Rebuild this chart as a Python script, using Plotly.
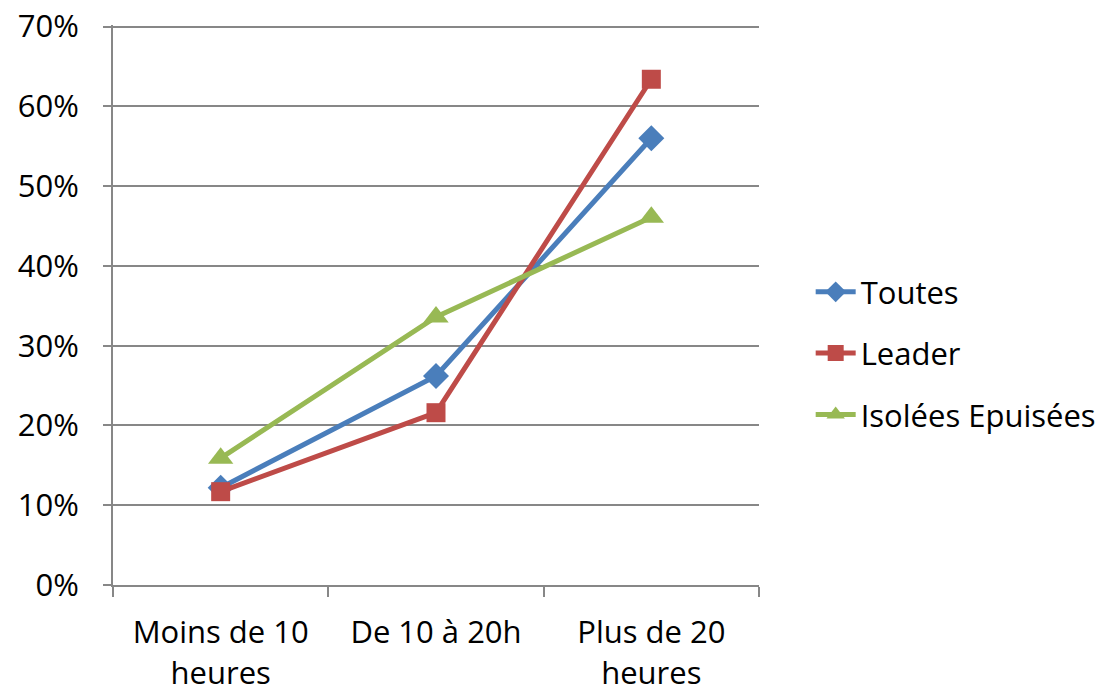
import plotly.graph_objects as go

categories = ["Moins de 10<br>heures", "De 10 à 20h", "Plus de 20<br>heures"]
toutes = [0.122, 0.262, 0.560]
leader = [0.117, 0.216, 0.634]
isolees = [0.159, 0.336, 0.461]

series = [
    ("Toutes", toutes, "#4A7EBB", "diamond", 20),
    ("Leader", leader, "#BE4B48", "square", 19),
    ("Isolées Epuisées", isolees, "#98B954", "triangle-up", 22),
]

fig = go.Figure()
for i, (name, vals, color, sym, size) in enumerate(series):
    fig.add_trace(go.Scatter(
        x=categories, y=vals, name=name, mode="lines+markers",
        line=dict(color=color, width=5),
        marker=dict(symbol=sym, size=size, color=color),
        legendgroup=f"g{i}",
    ))

font = "Open Sans, Liberation Sans, sans-serif"
fig.update_layout(
    width=1105, height=684,
    margin=dict(l=105, r=348, t=17, b=107),
    paper_bgcolor="white", plot_bgcolor="white",
    font=dict(family=font, size=31, color="black"),
    showlegend=True,
    legend=dict(x=1.08, y=0.414, xanchor="left", yanchor="middle",
                font=dict(size=31), tracegroupgap=18, traceorder="grouped",
                itemwidth=40),
    xaxis=dict(type="category", range=[-0.5, 2.5], showgrid=False, showline=True,
               linecolor="#878787", linewidth=2, ticks="outside",
               tickson="boundaries", ticklen=10, tickcolor="#878787", tickwidth=2,
               tickfont=dict(size=31), automargin=False, ticklabelstandoff=19,
               ticklabeloverflow="allow"),
    yaxis=dict(range=[0, 0.702], tickmode="array",
               tickvals=[0, 0.1, 0.2, 0.3, 0.4, 0.5, 0.6, 0.7],
               tickformat=".0%", showgrid=True,
               gridcolor="#878787", gridwidth=2, showline=True, linecolor="#878787",
               linewidth=2, ticks="outside", ticklen=8, tickcolor="#878787",
               tickwidth=2, zeroline=False, tickfont=dict(size=31),
               automargin=False, ticklabelstandoff=18, ticklabeloverflow="allow"),
)

fig.write_html("out.html")
